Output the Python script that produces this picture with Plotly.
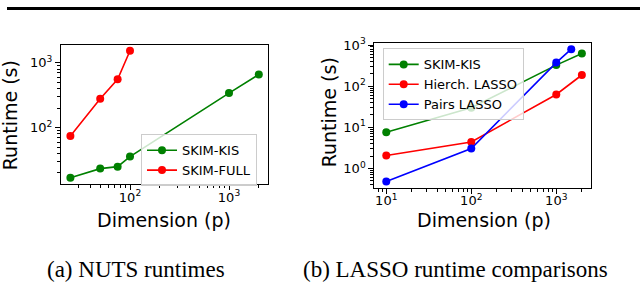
import plotly.graph_objects as go

# ---- data: (a) NUTS runtimes ----
nuts_dims_kis = [25, 50, 75, 100, 1000, 2000]
nuts_kis = [16.8, 23.3, 25.0, 35.7, 342, 661]
nuts_dims_full = [25, 50, 75, 100]
nuts_full = [74, 280, 560, 1540]

# ---- data: (b) LASSO runtime comparisons ----
lasso_dims = [10, 100, 1000, 2000]
lasso_kis = [7.6, 30, 325, 620]
lasso_hier = [2.07, 4.43, 63, 187]
pairs_dims = [10, 100, 1000, 1500]
lasso_pairs = [0.485, 3.07, 374, 791]

W, H = 640, 282
GREEN, RED, BLUE = "#008000", "#ff0000", "#0000ff"
FONT = "DejaVu Sans, Verdana, sans-serif"
SERIF = "Liberation Serif, Times New Roman, serif"


def px_x(p):
    return p / W


def px_y(p):
    return 1 - p / H


def sup(e):
    return f"10<sup>{e}</sup>"


def minors(decades):
    out = []
    for d in decades:
        for k in range(2, 10):
            out.append(k * 10 ** d)
    return out


fig = go.Figure()

line_w = 1.6
msize = 8


def add(x, y, name, color, xa, ya, legend):
    fig.add_trace(go.Scatter(
        x=x, y=y, name=name, mode="lines+markers",
        line=dict(color=color, width=line_w),
        marker=dict(color=color, size=msize, symbol="circle"),
        xaxis=xa, yaxis=ya, legend=legend,
    ))


add(nuts_dims_kis, nuts_kis, "SKIM-KIS", GREEN, "x", "y", "legend")
add(nuts_dims_full, nuts_full, "SKIM-FULL", RED, "x", "y", "legend")
add(lasso_dims, lasso_kis, "SKIM-KIS", GREEN, "x2", "y2", "legend2")
add(lasso_dims, lasso_hier, "Hierch. LASSO", RED, "x2", "y2", "legend2")
add(pairs_dims, lasso_pairs, "Pairs LASSO", BLUE, "x2", "y2", "legend2")

axis_common = dict(
    type="log", showgrid=False, zeroline=False,
    showline=True, linecolor="black", linewidth=1, mirror=True,
    ticks="outside", ticklen=5, tickwidth=1, tickcolor="black",
    tickfont=dict(family=FONT, size=13, color="black"),
)

minor_common = dict(ticks="outside", ticklen=3, tickwidth=0.8,
                    tickcolor="black", showgrid=False, tickmode="array")

legend_common = dict(xanchor="left", yanchor="top",
                     bgcolor="rgba(255,255,255,0.8)", bordercolor="#cccccc", borderwidth=1,
                     font=dict(family=FONT, size=13, color="black"),
                     tracegroupgap=0, itemwidth=30)

fig.update_layout(
    width=W, height=H,
    margin=dict(l=0, r=0, t=0, b=0),
    paper_bgcolor="white", plot_bgcolor="white",
    font=dict(family=FONT, color="black"),
    xaxis=dict(axis_common, domain=[px_x(61), px_x(268)], range=[1.303, 3.394],
               anchor="y", tickmode="array", tickvals=[100, 1000],
               ticktext=[sup(2), sup(3)], ticklabelstandoff=-4,
               minor=dict(minor_common, tickvals=minors([1, 2, 3]))),
    yaxis=dict(axis_common, domain=[px_y(181.7), px_y(39)], range=[1.127, 3.276],
               anchor="x", tickmode="array", tickvals=[100, 1000],
               ticktext=[sup(2), sup(3)],
               minor=dict(minor_common, tickvals=minors([1, 2, 3]))),
    xaxis2=dict(axis_common, domain=[px_x(374.3), px_x(590.7)], range=[0.859, 3.405],
                anchor="y2", tickmode="array", tickvals=[10, 100, 1000],
                ticktext=[sup(1), sup(2), sup(3)], ticklabelstandoff=-4,
                minor=dict(minor_common, tickvals=minors([0, 1, 2, 3]))),
    yaxis2=dict(axis_common, domain=[px_y(185.5), px_y(37)], range=[-0.469, 3.047],
                anchor="x2", tickmode="array", tickvals=[1, 10, 100, 1000],
                ticktext=[sup(0), sup(1), sup(2), sup(3)],
                minor=dict(minor_common, tickvals=minors([-1, 0, 1, 2, 3]))),
    legend=dict(legend_common, x=px_x(141), y=px_y(130.5)),
    legend2=dict(legend_common, x=px_x(382.7), y=px_y(42.5)),
    showlegend=True,
)

annotations = [
    dict(text="Runtime (s)", x=px_x(10), y=px_y(111), textangle=-90,
         font=dict(family=FONT, size=19, color="black")),
    dict(text="Dimension (p)", x=px_x(164), y=px_y(218),
         font=dict(family=FONT, size=19, color="black")),
    dict(text="Runtime (s)", x=px_x(329), y=px_y(108), textangle=-90,
         font=dict(family=FONT, size=19, color="black")),
    dict(text="Dimension (p)", x=px_x(484), y=px_y(218),
         font=dict(family=FONT, size=19, color="black")),
    dict(text="(a) NUTS runtimes", x=px_x(135.5), y=px_y(269),
         font=dict(family=SERIF, size=23, color="black")),
    dict(text="(b) LASSO runtime comparisons", x=px_x(455.5), y=px_y(269),
         font=dict(family=SERIF, size=23, color="black")),
]
for a in annotations:
    a.update(xref="paper", yref="paper", showarrow=False, xanchor="center", yanchor="middle")
fig.update_layout(annotations=annotations)

fig.add_shape(type="rect", xref="paper", yref="paper",
              x0=px_x(7), x1=1, y0=px_y(3), y1=1,
              fillcolor="black", line=dict(width=0))

fig.write_html("out.html", config={"displayModeBar": False},
               post_script="document.body.style.margin='0';document.body.style.overflow='hidden';")
